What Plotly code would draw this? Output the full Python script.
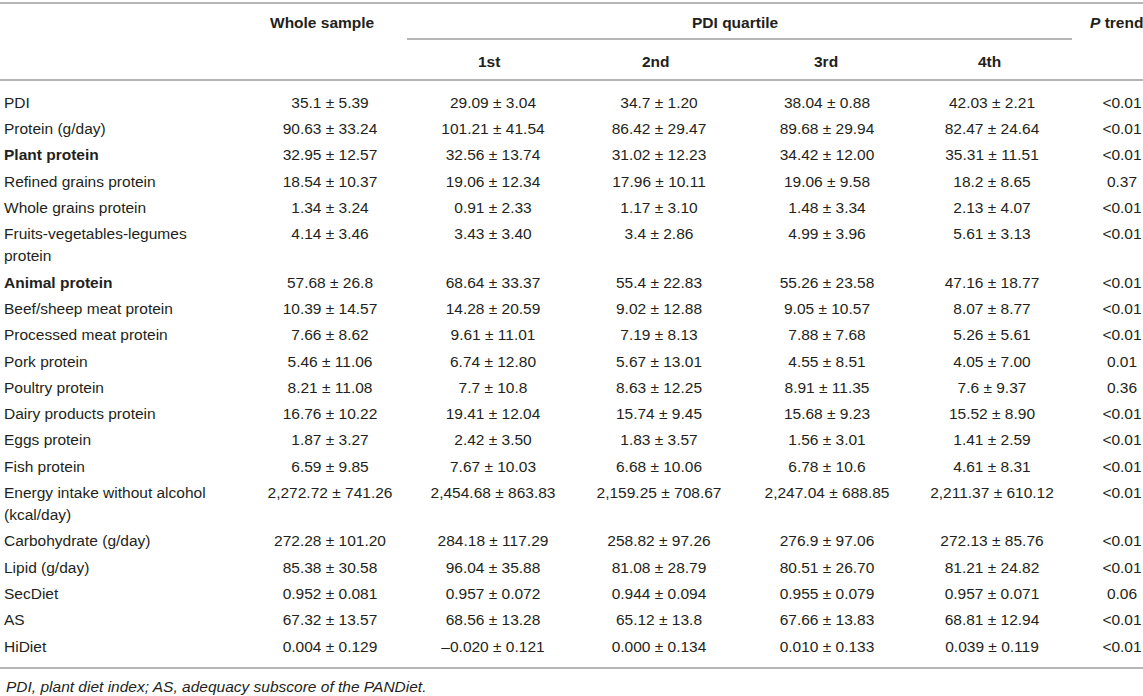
import plotly.graph_objects as go

# Table content
row_labels = [
    "PDI", "Protein (g/day)", "<b>Plant protein</b>", "Refined grains protein",
    "Whole grains protein", "Fruits-vegetables-legumes<br>protein", "<b>Animal protein</b>",
    "Beef/sheep meat protein", "Processed meat protein", "Pork protein", "Poultry protein",
    "Dairy products protein", "Eggs protein", "Fish protein",
    "Energy intake without alcohol<br>(kcal/day)", "Carbohydrate (g/day)", "Lipid (g/day)",
    "SecDiet", "AS", "HiDiet",
]
whole_sample = [
    "35.1 ± 5.39", "90.63 ± 33.24", "32.95 ± 12.57", "18.54 ± 10.37", "1.34 ± 3.24",
    "4.14 ± 3.46", "57.68 ± 26.8", "10.39 ± 14.57", "7.66 ± 8.62", "5.46 ± 11.06",
    "8.21 ± 11.08", "16.76 ± 10.22", "1.87 ± 3.27", "6.59 ± 9.85", "2,272.72 ± 741.26",
    "272.28 ± 101.20", "85.38 ± 30.58", "0.952 ± 0.081", "67.32 ± 13.57", "0.004 ± 0.129",
]
q1 = [
    "29.09 ± 3.04", "101.21 ± 41.54", "32.56 ± 13.74", "19.06 ± 12.34", "0.91 ± 2.33",
    "3.43 ± 3.40", "68.64 ± 33.37", "14.28 ± 20.59", "9.61 ± 11.01", "6.74 ± 12.80",
    "7.7 ± 10.8", "19.41 ± 12.04", "2.42 ± 3.50", "7.67 ± 10.03", "2,454.68 ± 863.83",
    "284.18 ± 117.29", "96.04 ± 35.88", "0.957 ± 0.072", "68.56 ± 13.28", "–0.020 ± 0.121",
]
q2 = [
    "34.7 ± 1.20", "86.42 ± 29.47", "31.02 ± 12.23", "17.96 ± 10.11", "1.17 ± 3.10",
    "3.4 ± 2.86", "55.4 ± 22.83", "9.02 ± 12.88", "7.19 ± 8.13", "5.67 ± 13.01",
    "8.63 ± 12.25", "15.74 ± 9.45", "1.83 ± 3.57", "6.68 ± 10.06", "2,159.25 ± 708.67",
    "258.82 ± 97.26", "81.08 ± 28.79", "0.944 ± 0.094", "65.12 ± 13.8", "0.000 ± 0.134",
]
q3 = [
    "38.04 ± 0.88", "89.68 ± 29.94", "34.42 ± 12.00", "19.06 ± 9.58", "1.48 ± 3.34",
    "4.99 ± 3.96", "55.26 ± 23.58", "9.05 ± 10.57", "7.88 ± 7.68", "4.55 ± 8.51",
    "8.91 ± 11.35", "15.68 ± 9.23", "1.56 ± 3.01", "6.78 ± 10.6", "2,247.04 ± 688.85",
    "276.9 ± 97.06", "80.51 ± 26.70", "0.955 ± 0.079", "67.66 ± 13.83", "0.010 ± 0.133",
]
q4 = [
    "42.03 ± 2.21", "82.47 ± 24.64", "35.31 ± 11.51", "18.2 ± 8.65", "2.13 ± 4.07",
    "5.61 ± 3.13", "47.16 ± 18.77", "8.07 ± 8.77", "5.26 ± 5.61", "4.05 ± 7.00",
    "7.6 ± 9.37", "15.52 ± 8.90", "1.41 ± 2.59", "4.61 ± 8.31", "2,211.37 ± 610.12",
    "272.13 ± 85.76", "81.21 ± 24.82", "0.957 ± 0.071", "68.81 ± 12.94", "0.039 ± 0.119",
]
p_trend = [
    "<0.01", "<0.01", "<0.01", "0.37", "<0.01", "<0.01", "<0.01", "<0.01", "<0.01", "0.01",
    "0.36", "<0.01", "<0.01", "<0.01", "<0.01", "<0.01", "<0.01", "0.06", "<0.01", "<0.01",
]
quartile_labels = ["1st", "2nd", "3rd", "4th"]
footnote = "<i>PDI, plant diet index; AS, adequacy subscore of the PANDiet.</i>"

# layout in pixels (axes map 1:1 onto the figure)
W, H = 1143, 696
FONT = "Liberation Sans, Arial, Helvetica, sans-serif"
FS = 15.5
TXT = "#231f20"
RULE = "#b5b5b5"
header_x = [322, 489, 656, 826, 989]
data_x = [330, 493, 659, 827, 992]
ptrend_header_x, ptrend_x = 1116, 1122
ROW_STEP, WRAP_STEP = 26.3, 22

# row y positions (first line of each row)
row_y = []
y = 104
for lab in row_labels:
    row_y.append(y)
    y += ROW_STEP + WRAP_STEP * lab.count("<br>")

fig = go.Figure()

# labels, wrapped ones line by line
lab_x, lab_y, lab_t = [], [], []
for lab, yy in zip(row_labels, row_y):
    for k, part in enumerate(lab.split("<br>")):
        lab_x.append(4)
        lab_y.append(yy + k * WRAP_STEP)
        lab_t.append(part)
fig.add_trace(go.Scatter(x=lab_x, y=lab_y, text=lab_t, mode="text", cliponaxis=False,
                         textposition="middle right", hoverinfo="skip",
                         textfont=dict(family=FONT, size=FS, color=TXT)))

for cx, col in zip(data_x, [whole_sample, q1, q2, q3, q4]):
    fig.add_trace(go.Scatter(x=[cx] * len(col), y=row_y, text=col, mode="text",
                             cliponaxis=False, textposition="middle center",
                             hoverinfo="skip",
                             textfont=dict(family=FONT, size=FS, color=TXT)))
fig.add_trace(go.Scatter(x=[ptrend_x] * len(p_trend), y=row_y,
                         text=[t.replace("<", "&lt;") for t in p_trend], mode="text",
                         cliponaxis=False, textposition="middle center", hoverinfo="skip",
                         textfont=dict(family=FONT, size=FS, color=TXT)))

# headers
ann = [
    dict(x=header_x[0], y=22, text="<b>Whole sample</b>"),
    dict(x=735, y=22, text="<b>PDI quartile</b>"),
    dict(x=ptrend_header_x, y=22, text="<b><i>P</i> trend</b>"),
]
for hx, q in zip(header_x[1:], quartile_labels):
    ann.append(dict(x=hx, y=61, text=f"<b>{q}</b>"))
ann.append(dict(x=4, y=686, text=footnote, xanchor="left"))
for a in ann:
    a.setdefault("xanchor", "center")
    a.update(xref="x", yref="y", yanchor="middle", showarrow=False,
             font=dict(family=FONT, size=FS, color=TXT))

# rules
rules = [(0, W, 3), (407, 1072, 39), (0, W, 80), (0, W, 668)]
shapes = [dict(type="line", xref="x", yref="y", x0=a, x1=b, y0=yy, y1=yy,
               line=dict(color=RULE, width=2)) for a, b, yy in rules]

fig.update_layout(
    width=W, height=H,
    margin=dict(l=0, r=0, t=0, b=0),
    paper_bgcolor="white", plot_bgcolor="white",
    showlegend=False,
    xaxis=dict(range=[0, W], visible=False, fixedrange=True),
    yaxis=dict(range=[H, 0], visible=False, fixedrange=True),
    annotations=ann, shapes=shapes,
)

# drop the browser's default body margin so the figure fills the window
fig.write_html("out.html", config={"displayModeBar": False},
               post_script="document.body.style.margin='0';"
                           "document.body.style.overflow='hidden';")
